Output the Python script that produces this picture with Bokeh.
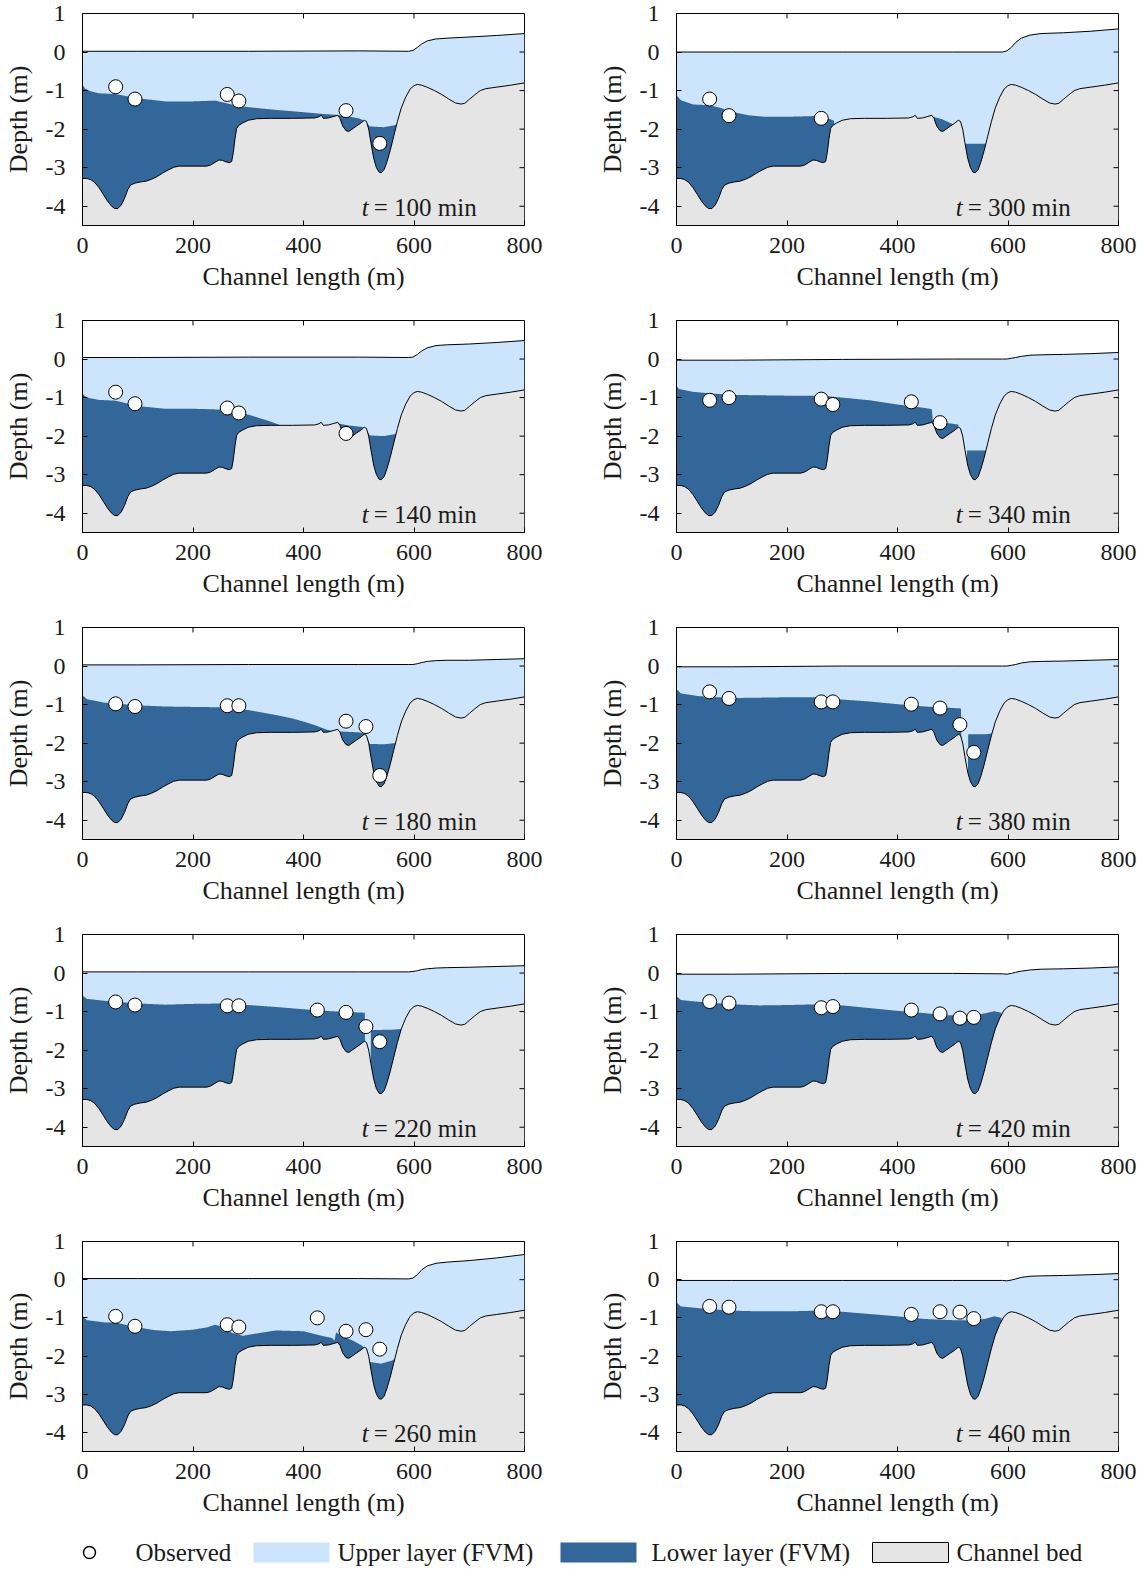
import numpy as np
from bokeh.plotting import figure
from bokeh.layouts import column, row
from bokeh.models import Range1d, FixedTicker, Label
from bokeh.embed import file_html
from bokeh.resources import INLINE
from bokeh.core.properties import value

FONT = "Liberation Serif"
LIGHT = "#cce5fc"
DARK = "#336699"
GRAY = "#e5e5e5"
INK = "#1a1a1a"

# ---------------- data ----------------
x_ticks = [0, 200, 400, 600, 800]
y_ticks = [-4, -3, -2, -1, 0, 1]

# channel bed profile (m)
bed_x = [0, 8, 15, 22, 30, 38, 45, 52, 58, 64, 70, 76, 82, 87, 95, 105, 115, 125, 135, 145,
         155, 165, 175, 200, 225, 232, 240, 247, 253, 260, 266, 270, 273, 276, 279, 283, 290,
         300, 315, 340, 380, 420, 428, 432, 436, 445, 455, 462, 466, 471, 477, 482, 488, 496,
         504, 510, 514, 518, 522, 527, 532, 537, 541, 546, 551, 557, 563, 570, 577, 585, 593,
         600, 606, 614, 625, 637, 650, 663, 675, 685, 692, 700, 710, 720, 730, 750, 775, 800]
bed_y = [-3.28, -3.28, -3.31, -3.38, -3.52, -3.70, -3.86, -3.99, -4.06, -4.06, -3.97, -3.80,
         -3.57, -3.45, -3.40, -3.37, -3.35, -3.30, -3.23, -3.14, -3.06, -2.99, -2.96, -2.96,
         -2.96, -2.93, -2.86, -2.80, -2.81, -2.85, -2.87, -2.84, -2.60, -2.25, -1.98, -1.90,
         -1.84, -1.77, -1.73, -1.72, -1.72, -1.71, -1.68, -1.64, -1.72, -1.71, -1.67, -1.64,
         -1.72, -1.92, -2.04, -2.06, -2.00, -1.92, -1.84, -1.77, -1.80, -2.00, -2.35, -2.75,
         -3.00, -3.12, -3.13, -3.05, -2.85, -2.55, -2.20, -1.80, -1.45, -1.17, -0.96, -0.87,
         -0.84, -0.86, -0.92, -1.00, -1.10, -1.22, -1.32, -1.35, -1.33, -1.23, -1.11, -1.00,
         -0.95, -0.91, -0.86, -0.80]

# free surface, common stations
surf_x = [0, 100, 300, 500, 590, 598, 606, 614, 624, 640, 660, 700, 750, 800]
surf_100 = [0.02, 0.02, 0.02, 0.03, 0.02, 0.04, 0.12, 0.21, 0.29, 0.34, 0.36, 0.39, 0.43, 0.48]
surf_140 = [0.04, 0.04, 0.05, 0.05, 0.04, 0.05, 0.12, 0.21, 0.29, 0.35, 0.37, 0.39, 0.43, 0.48]
surf_180 = [0.03, 0.03, 0.04, 0.04, 0.04, 0.04, 0.06, 0.09, 0.12, 0.14, 0.15, 0.15, 0.17, 0.19]
surf_220 = [0.03, 0.03, 0.03, 0.03, 0.03, 0.04, 0.06, 0.09, 0.11, 0.13, 0.14, 0.15, 0.17, 0.19]
surf_260 = [0.03, 0.03, 0.03, 0.03, 0.02, 0.04, 0.13, 0.26, 0.36, 0.43, 0.46, 0.50, 0.57, 0.66]
surf_300 = [0.0, 0.0, 0.0, 0.0, 0.0, 0.03, 0.12, 0.25, 0.36, 0.44, 0.48, 0.50, 0.54, 0.60]
surf_340 = [-0.03, -0.03, -0.01, 0.0, 0.0, 0.0, 0.02, 0.04, 0.07, 0.10, 0.11, 0.12, 0.14, 0.17]
surf_380 = [-0.02, -0.02, 0.0, 0.0, 0.0, 0.0, 0.02, 0.04, 0.08, 0.11, 0.12, 0.13, 0.15, 0.17]
surf_420 = [-0.03, -0.03, -0.01, -0.01, -0.02, -0.03, -0.01, 0.02, 0.05, 0.08, 0.10, 0.11, 0.13, 0.16]
surf_460 = [-0.02, -0.02, -0.02, -0.02, -0.02, -0.03, -0.01, 0.02, 0.06, 0.09, 0.10, 0.11, 0.13, 0.16]

# interface (top of lower layer); -9 marks "no lower layer"
low_x_100 = [0, 5, 15, 30, 60, 100, 150, 200, 240, 270, 300, 350, 400, 430, 460, 480, 500, 512, 520, 545, 565, 575, 580]
low_y_100 = [-0.85, -0.95, -1.02, -1.07, -1.09, -1.20, -1.28, -1.28, -1.26, -1.36, -1.43, -1.50, -1.56, -1.60, -1.63, -1.67, -1.72, -1.79, -1.93, -1.95, -1.90, -1.82, -9]
low_x_140 = [0, 8, 30, 60, 100, 150, 200, 250, 280, 300, 320, 340, 355, 360, 365, 455, 460, 480, 505, 512, 520, 545, 565, 578, 582]
low_y_140 = [-0.90, -1.00, -1.06, -1.08, -1.22, -1.29, -1.29, -1.31, -1.40, -1.44, -1.53, -1.62, -1.70, -1.74, -9, -9, -1.66, -1.72, -1.76, -1.80, -1.98, -2.00, -1.95, -1.85, -9]
low_x_180 = [0, 8, 40, 100, 150, 250, 300, 350, 380, 400, 420, 440, 450, 470, 500, 512, 520, 545, 565, 575, 580]
low_y_180 = [-0.76, -0.86, -0.95, -1.02, -1.05, -1.07, -1.14, -1.27, -1.36, -1.44, -1.53, -1.64, -1.68, -1.70, -1.72, -1.76, -2.02, -2.03, -2.00, -1.98, -9]
low_x_220 = [0, 8, 40, 100, 150, 200, 250, 300, 350, 400, 450, 511, 513, 519, 522, 560, 578, 585]
low_y_220 = [-0.58, -0.67, -0.72, -0.79, -0.82, -0.80, -0.79, -0.83, -0.88, -0.94, -0.99, -1.03, -9, -9, -1.48, -1.47, -1.45, -9]
low_x_260 = [0, 8, 40, 60, 80, 100, 130, 160, 200, 225, 240, 252, 270, 290, 310, 350, 400, 430, 452, 456, 459, 470, 490, 505, 512, 518, 540, 560, 575, 580]
low_y_260 = [-0.95, -1.06, -1.12, -1.12, -1.19, -1.25, -1.32, -1.35, -1.31, -1.25, -1.18, -1.23, -1.39, -1.47, -1.42, -1.33, -1.35, -1.46, -1.53, -1.60, -1.38, -1.48, -1.60, -1.72, -1.80, -2.15, -2.20, -2.12, -2.00, -9]
low_x_300 = [0, 8, 30, 60, 80, 100, 130, 160, 200, 250, 270, 285, 290, 455, 460, 480, 500, 505, 518, 522, 560, 568, 572]
low_y_300 = [-1.12, -1.25, -1.36, -1.38, -1.45, -1.55, -1.64, -1.68, -1.68, -1.66, -1.70, -1.78, -9, -9, -1.66, -1.74, -1.87, -9, -9, -2.38, -2.38, -2.32, -9]
low_x_340 = [0, 5, 30, 60, 100, 200, 262, 300, 350, 400, 450, 462, 464, 490, 510, 513, 523, 526, 560, 565]
low_y_340 = [-0.70, -0.78, -0.85, -0.89, -0.93, -0.95, -0.95, -1.00, -1.07, -1.18, -1.27, -1.30, -1.60, -1.66, -1.70, -9, -9, -2.37, -2.37, -9]
low_x_380 = [0, 8, 40, 100, 200, 260, 300, 350, 400, 450, 515, 517, 525, 528, 560, 575, 580]
low_y_380 = [-0.60, -0.71, -0.78, -0.83, -0.81, -0.81, -0.87, -0.92, -0.99, -1.05, -1.10, -9, -9, -1.77, -1.77, -1.74, -9]
low_x_420 = [0, 8, 50, 100, 150, 200, 262, 300, 350, 400, 450, 480, 510, 540, 560, 575, 588, 595]
low_y_420 = [-0.60, -0.70, -0.76, -0.81, -0.84, -0.83, -0.81, -0.84, -0.91, -0.98, -1.04, -1.09, -1.10, -1.09, -1.04, -0.99, -1.03, -9]
low_x_460 = [0, 8, 50, 100, 150, 200, 262, 300, 350, 400, 450, 500, 540, 560, 575, 588, 595]
low_y_460 = [-0.60, -0.70, -0.76, -0.81, -0.83, -0.83, -0.81, -0.84, -0.90, -0.96, -1.03, -1.06, -1.07, -1.02, -0.96, -1.00, -9]

# observations at fixed stations (None = no observation shown)
stations = [60, 95, 262, 283, 425, 477, 513, 538]
obs_100 = [-0.90, -1.22, -1.10, -1.27, None, -1.52, None, -2.37]
obs_140 = [-0.86, -1.16, -1.27, -1.40, None, -1.93, None, None]
obs_180 = [-0.98, -1.05, -1.03, -1.03, None, -1.43, -1.57, -2.84]
obs_220 = [-0.75, -0.83, -0.85, -0.85, -0.96, -1.02, -1.39, -1.78]
obs_260 = [-0.96, -1.22, -1.18, -1.24, -1.00, -1.35, -1.31, -1.82]
obs_300 = [-1.22, -1.65, -1.72, None, None, None, None, None]
obs_340 = [-1.07, -1.00, -1.04, -1.18, -1.11, -1.65, None, None]
obs_380 = [-0.67, -0.84, -0.93, -0.93, -0.99, -1.09, -1.52, -2.24]
obs_420 = [-0.74, -0.78, -0.90, -0.87, -0.96, -1.06, -1.17, -1.15]
obs_460 = [-0.70, -0.72, -0.84, -0.84, -0.91, -0.84, -0.85, -1.02]

left_times = [100, 140, 180, 220, 260]
right_times = [300, 340, 380, 420, 460]
panel_data = {
    100: (surf_100, low_x_100, low_y_100, obs_100),
    140: (surf_140, low_x_140, low_y_140, obs_140),
    180: (surf_180, low_x_180, low_y_180, obs_180),
    220: (surf_220, low_x_220, low_y_220, obs_220),
    260: (surf_260, low_x_260, low_y_260, obs_260),
    300: (surf_300, low_x_300, low_y_300, obs_300),
    340: (surf_340, low_x_340, low_y_340, obs_340),
    380: (surf_380, low_x_380, low_y_380, obs_380),
    420: (surf_420, low_x_420, low_y_420, obs_420),
    460: (surf_460, low_x_460, low_y_460, obs_460),
}

legend_labels = ["Observed", "Upper layer (FVM)", "Lower layer (FVM)", "Channel bed"]

# ---------------- panels ----------------
Y_MIN, Y_MAX = -4.5, 1.0
X_MIN, X_MAX = 0, 800
FRAME_W, FRAME_H = 442, 212
TICK_PX = 5
BL = 82


def make_panel(t, left_col, last_row):
    surf_y, low_x, low_y, obs = panel_data[t]
    br = 70 if left_col else 20
    bt = 13
    bb = 66 if last_row else 82
    width = BL + FRAME_W + br
    height = bt + FRAME_H + bb
    p = figure(width=width, height=height, x_range=Range1d(X_MIN, X_MAX), y_range=Range1d(Y_MIN, Y_MAX),
               output_backend="svg", toolbar_location=None,
               min_border_left=BL, min_border_right=br, min_border_top=bt, min_border_bottom=bb,
               x_axis_label="Channel length (m)", y_axis_label="Depth (m)")
    p.grid.visible = False
    p.outline_line_color = "black"
    p.outline_line_width = 1
    p.background_fill_color = "white"
    p.border_fill_color = "white"

    grid = np.unique(np.concatenate([np.arange(0, 800.25, 0.5), bed_x, surf_x, low_x]))
    bed_g = np.interp(grid, bed_x, bed_y)
    surf_g = np.interp(grid, surf_x, surf_y)
    low_g = np.maximum(np.interp(grid, low_x, low_y, left=-9, right=-9), bed_g)

    p.varea(x=grid, y1=np.full_like(grid, Y_MIN), y2=bed_g, fill_color=GRAY)
    p.varea(x=grid, y1=bed_g, y2=surf_g, fill_color=LIGHT)
    p.varea(x=grid, y1=bed_g, y2=low_g, fill_color=DARK)
    p.line(bed_x, bed_y, line_color="black", line_width=1)
    p.line(surf_x, surf_y, line_color="black", line_width=1)

    ox = [s for s, v in zip(stations, obs) if v is not None]
    oy = [v for v in obs if v is not None]
    p.scatter(ox, oy, marker="circle", size=14, fill_color="white", line_color="black", line_width=1)

    # inward tick marks on the top and right edges of the box
    dy = (Y_MAX - Y_MIN) / FRAME_H * TICK_PX
    dx = (X_MAX - X_MIN) / FRAME_W * TICK_PX
    p.segment(x0=x_ticks, y0=[Y_MAX] * len(x_ticks), x1=x_ticks, y1=[Y_MAX - dy] * len(x_ticks),
              line_color="black", line_width=1)
    p.segment(x0=[X_MAX] * len(y_ticks), y0=y_ticks, x1=[X_MAX - dx] * len(y_ticks), y1=y_ticks,
              line_color="black", line_width=1)

    p.xaxis.ticker = FixedTicker(ticks=x_ticks)
    p.yaxis.ticker = FixedTicker(ticks=y_ticks)
    p.yaxis.major_label_overrides = {v: str(v) for v in y_ticks}
    for ax in (p.xaxis[0], p.yaxis[0]):
        ax.axis_line_color = "black"
        ax.axis_line_width = 1
        ax.major_tick_in = TICK_PX
        ax.major_tick_out = 0
        ax.minor_tick_in = 0
        ax.minor_tick_out = 0
        ax.major_tick_line_color = "black"
        ax.major_label_text_font = FONT
        ax.major_label_text_font_size = "24px"
        ax.major_label_text_color = INK
        ax.axis_label_text_font = FONT
        ax.axis_label_text_font_size = "26px"
        ax.axis_label_text_font_style = "normal"
        ax.axis_label_text_color = INK
    p.xaxis.major_label_standoff = 12
    p.xaxis.axis_label_standoff = 6
    p.yaxis.major_label_standoff = 17
    p.yaxis.axis_label_standoff = 10

    p.add_layout(Label(x=518, y=-4.03, text="t", text_font=FONT, text_font_style="italic",
                       text_font_size="25px", text_color=INK, text_align="right", text_baseline="middle"))
    p.add_layout(Label(x=527, y=-4.03, text="= %d min" % t, text_font=FONT,
                       text_font_size="25px", text_color=INK, text_align="left", text_baseline="middle"))
    return p


rows = []
for i, (tl, tr) in enumerate(zip(left_times, right_times)):
    last = i == len(left_times) - 1
    rows.append(row(make_panel(tl, True, last), make_panel(tr, False, last), spacing=0))

# ---------------- legend ----------------
LEG_W, LEG_H = 1138, 47
leg = figure(width=LEG_W, height=LEG_H, x_range=Range1d(0, LEG_W), y_range=Range1d(0, LEG_H),
             output_backend="svg", toolbar_location=None, x_axis_type=None, y_axis_type=None,
             min_border=0)
leg.grid.visible = False
leg.outline_line_color = None
leg.background_fill_color = "white"
leg.border_fill_color = "white"
LY = 14
leg.scatter([89], [LY], marker="circle", size=12, fill_color="white", line_color="black", line_width=1.5)
leg.rect([291, 598, 910], [LY] * 3, width=76, height=20,
         fill_color=[LIGHT, DARK, GRAY], line_color=[None, None, "black"], line_width=1)
leg.text([135, 337, 651, 956], [LY] * 4, text=legend_labels, text_font=value(FONT),
         text_font_size="25px", text_color=INK, text_baseline="middle", text_align="left")

layout = column(*rows, leg, spacing=0)
open("out.html", "w").write(file_html(layout, INLINE))
